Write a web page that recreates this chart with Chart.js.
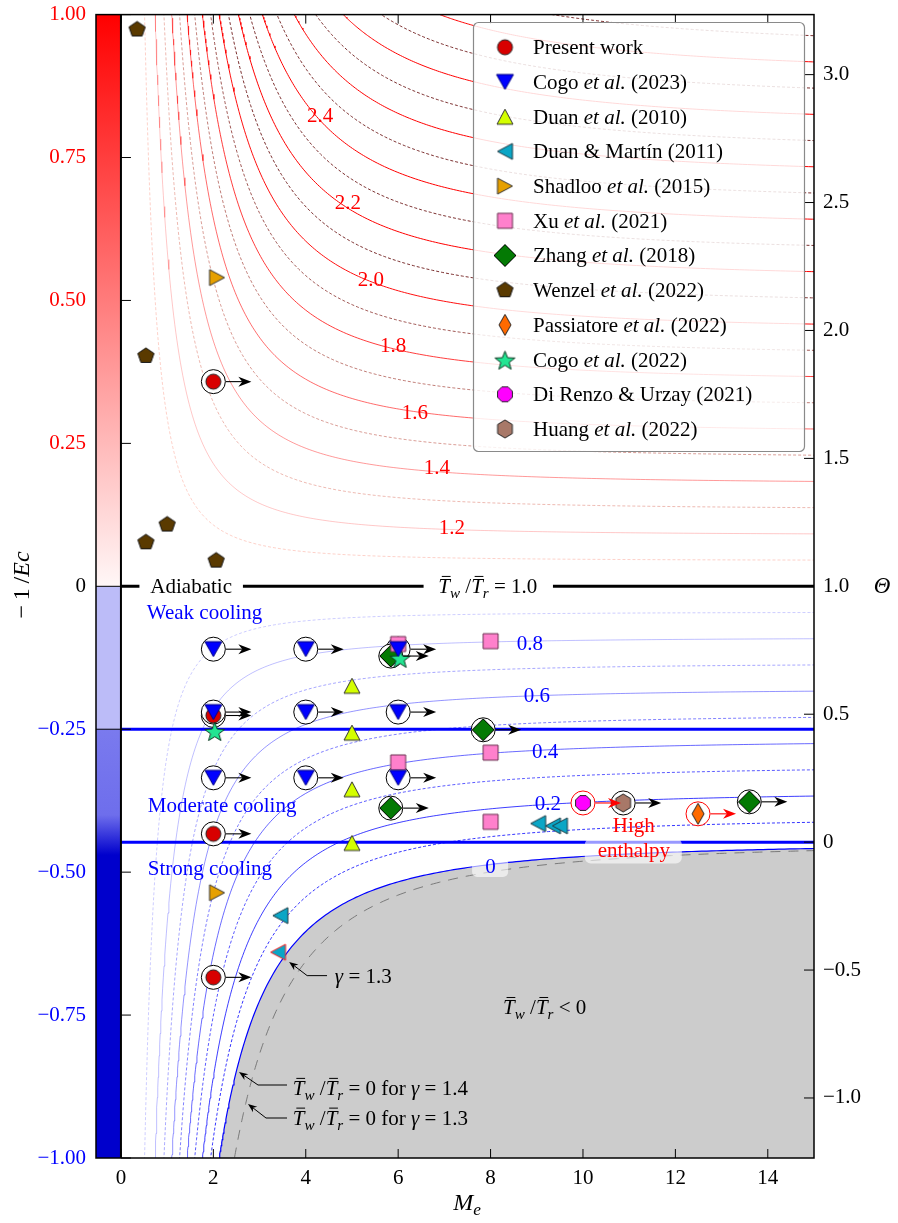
<!DOCTYPE html>
<html>
<head>
<meta charset="utf-8">
<script src="https://cdn.jsdelivr.net/npm/chart.js@4.4.0/dist/chart.umd.min.js"></script>
<style>
  html, body { margin: 0; padding: 0; background: #fff; }
  #wrap { width: 898px; height: 1223px; }
</style>
</head>
<body>
<div id="wrap"><canvas id="chart" width="898" height="1223"></canvas></div>
<script>
// values: x = Me, y = -1/Ec
const presentM = [2, 2, 2, 2];
const presentY = [0.358, -0.226, -0.433, -0.684];
const cogo2023M = [2, 4, 6, 2, 4, 6, 2, 4, 6];
const cogo2023Y = [-0.110, -0.110, -0.110, -0.220, -0.220, -0.220, -0.335, -0.335, -0.335];
const duan2010M = [5, 5, 5, 5];
const duan2010Y = [-0.174, -0.256, -0.355, -0.449];
const duanMartinM = [3.45, 3.4, 9.03, 9.35, 9.5];
const duanMartinY = [-0.576, -0.640, -0.415, -0.419, -0.419];
const shadlooM = [2.08, 2.08];
const shadlooY = [0.54, -0.536];
const xuM = [6, 6, 8, 8, 8];
const xuY = [-0.101, -0.308, -0.096, -0.291, -0.412];
const zhangM = [5.84, 7.84, 5.84, 13.6];
const zhangY = [-0.122, -0.251, -0.388, -0.377];
const wenzelM = [0.35, 0.54, 0.54, 1.0, 2.06];
const wenzelY = [0.974, 0.403, 0.077, 0.108, 0.045];
const passiatoreM = [12.49];
const passiatoreY = [-0.398];
const cogo2022M = [2.03, 6.04];
const cogo2022Y = [-0.253, -0.125];
const diRenzoM = [10.0];
const diRenzoY = [-0.379];
const huangM = [10.87];
const huangY = [-0.379];

const legendLabels = ['Present work', 'Cogo *et al.* (2023)', 'Duan *et al.* (2010)', 'Duan & Mart\u00edn (2011)',
  'Shadloo *et al.* (2015)', 'Xu *et al.* (2021)', 'Zhang *et al.* (2018)', 'Wenzel *et al.* (2022)',
  'Passiatore *et al.* (2022)', 'Cogo *et al.* (2022)', 'Di Renzo & Urzay (2021)', 'Huang *et al.* (2022)'];

// iso-lines of Tw/Tr, and the tick labels
const redLevels = [1.1, 1.2, 1.3, 1.4, 1.5, 1.6, 1.7, 1.8, 1.9, 2.0, 2.1, 2.2, 2.3, 2.4, 2.5, 2.6, 2.7, 2.8, 2.9, 3.0, 3.1, 3.2];
const blueLevels = [0.9, 0.8, 0.7, 0.6, 0.5, 0.4, 0.3, 0.2, 0.1];
const redLabels = ['2.4', '2.2', '2.0', '1.8', '1.6', '1.4', '1.2'];
const blueLabels = ['0.8', '0.6', '0.4', '0.2'];
const xTicks = [0, 2, 4, 6, 8, 10, 12, 14];
const yTicks = [1, 0.75, 0.5, 0.25, 0, -0.25, -0.5, -0.75, -1];
const yTickLabels = ['1.00', '0.75', '0.50', '0.25', '0', '\u22120.25', '\u22120.50', '\u22120.75', '\u22121.00'];
const thetaTicks = [3, 2.5, 2, 1.5, 1, 0.5, 0, -0.5, -1];
const thetaTickLabels = ['3.0', '2.5', '2.0', '1.5', '1.0', '0.5', '0', '\u22120.5', '\u22121.0'];

const recovery = 0.895;   // Theta = 1 + (2/r)(-1/Ec)
const gammaAir = 1.4;
const gammaLow = 1.3;
const weakLimit = -0.25;
const strongLimit = -recovery / 2;

// Tw/Tr = level curve in the (Me, -1/Ec) plane
function isoline(level, g) {
  const k = recovery * (g - 1) / 2;
  const lim = level > 1 ? 1.03 : -1.03;
  const q = (level - 1) / ((g - 1) * lim - (level - 1) * k);
  const m0 = q > 0 ? Math.sqrt(q) : 0.05;
  const pts = [];
  for (let i = 0; i <= 220; i++) {
    const t = i / 220;
    const m = m0 + (15.3 - m0) * t * t;
    pts.push({ x: m, y: (level - 1) * (1 + k * m * m) / ((g - 1) * m * m) });
  }
  return pts;
}

function marker(shape, fill, edge, w, h) {
  const c = document.createElement('canvas');
  c.width = Math.ceil(w + 4); c.height = Math.ceil(h + 4);
  const g = c.getContext('2d');
  const cx = c.width / 2, cy = c.height / 2, rx = w / 2, ry = h / 2;
  const poly = (n, start) => {
    for (let i = 0; i < n; i++) {
      const a = start + i * 2 * Math.PI / n;
      const px = cx + rx * Math.cos(a), py = cy + ry * Math.sin(a);
      if (i === 0) g.moveTo(px, py); else g.lineTo(px, py);
    }
  };
  g.beginPath();
  if (shape === 'circle') g.ellipse(cx, cy, rx, ry, 0, 0, 2 * Math.PI);
  else if (shape === 'down') { g.moveTo(cx - rx, cy - ry); g.lineTo(cx + rx, cy - ry); g.lineTo(cx, cy + ry); }
  else if (shape === 'up') { g.moveTo(cx - rx, cy + ry); g.lineTo(cx + rx, cy + ry); g.lineTo(cx, cy - ry); }
  else if (shape === 'left') { g.moveTo(cx + rx, cy - ry); g.lineTo(cx + rx, cy + ry); g.lineTo(cx - rx, cy); }
  else if (shape === 'right') { g.moveTo(cx - rx, cy - ry); g.lineTo(cx - rx, cy + ry); g.lineTo(cx + rx, cy); }
  else if (shape === 'square') g.rect(cx - rx, cy - ry, w, h);
  else if (shape === 'diamond') { g.moveTo(cx, cy - ry); g.lineTo(cx + rx, cy); g.lineTo(cx, cy + ry); g.lineTo(cx - rx, cy); }
  else if (shape === 'pent') poly(5, -Math.PI / 2);
  else if (shape === 'hex') poly(6, -Math.PI / 2);
  else if (shape === 'oct') poly(8, Math.PI / 8);
  else if (shape === 'star') {
    for (let i = 0; i < 10; i++) {
      const a = -Math.PI / 2 + i * Math.PI / 5, f = i % 2 ? 0.42 : 1;
      const px = cx + rx * f * Math.cos(a), py = cy + ry * f * Math.sin(a) + 1.5;
      if (i === 0) g.moveTo(px, py); else g.lineTo(px, py);
    }
  }
  g.closePath();
  g.fillStyle = fill; g.fill();
  g.lineWidth = 1; g.strokeStyle = edge; g.stroke();
  return c;
}

const mk = {
  present: marker('circle', '#d80000', '#222', 15, 15),
  cogo2023: marker('down', '#0000ff', '#000080', 17, 15),
  duan2010: marker('up', '#d4ff00', '#333', 16, 15),
  duanMartin: marker('left', '#0aa6c6', '#1d3a44', 15, 16),
  duanMartinRed: marker('left', '#0aa6c6', '#ff2020', 15, 16),
  shadloo: marker('right', '#e6a000', '#333', 15, 16),
  xu: marker('square', '#ff80cc', '#6a3050', 15, 15),
  zhang: marker('diamond', '#047a04', '#000', 22, 22),
  wenzel: marker('pent', '#5a3a00', '#111', 17, 16),
  passiatore: marker('diamond', '#ff6a00', '#222', 12, 21),
  cogo2022: marker('star', '#22e592', '#0c3a22', 21, 20),
  diRenzo: marker('oct', '#ff00ff', '#222', 16, 16),
  huang: marker('hex', '#a87868', '#222', 17, 18)
};

const zip = (xs, ys) => xs.map((v, i) => ({ x: v, y: ys[i] }));

const series = [
  { label: legendLabels[0], data: zip(presentM, presentY), icon: mk.present, ring: '#000', order: 2 },
  { label: legendLabels[1], data: zip(cogo2023M, cogo2023Y), icon: mk.cogo2023, ring: '#000', order: 1 },
  { label: legendLabels[2], data: zip(duan2010M, duan2010Y), icon: mk.duan2010, order: 1 },
  { label: legendLabels[3], data: zip(duanMartinM, duanMartinY), icon: mk.duanMartin, order: 1,
    styles: [mk.duanMartin, mk.duanMartinRed, mk.duanMartin, mk.duanMartin, mk.duanMartin] },
  { label: legendLabels[4], data: zip(shadlooM, shadlooY), icon: mk.shadloo, order: 1 },
  { label: legendLabels[5], data: zip(xuM, xuY), icon: mk.xu, order: 2 },
  { label: legendLabels[6], data: zip(zhangM, zhangY), icon: mk.zhang, ring: '#000', order: 2 },
  { label: legendLabels[7], data: zip(wenzelM, wenzelY), icon: mk.wenzel, order: 1 },
  { label: legendLabels[8], data: zip(passiatoreM, passiatoreY), icon: mk.passiatore, ring: '#ff0000', order: 1 },
  { label: legendLabels[9], data: zip(cogo2022M, cogo2022Y), icon: mk.cogo2022, order: 1 },
  { label: legendLabels[10], data: zip(diRenzoM, diRenzoY), icon: mk.diRenzo, ring: '#ff0000', order: 1 },
  { label: legendLabels[11], data: zip(huangM, huangY), icon: mk.huang, ring: '#000', order: 1 }
];

const ringPts = [], ringColors = [];
series.forEach(s => { if (s.ring) s.data.forEach(p => { ringPts.push(p); ringColors.push(s.ring); }); });

function redStyle(c) {
  const odd = Math.round(c * 10) % 2 === 1;
  if (!odd) {
    const a = Math.min(1, 0.22 + (c - 1.2) * 0.9);
    return { color: `rgba(255,0,0,${a})`, dash: [] };
  }
  const t = Math.min(1, (c - 1.1) / 1.0);
  const r = Math.round(250 - 140 * t), gg = Math.round(140 - 115 * t), b = Math.round(120 - 95 * t);
  return { color: `rgba(${r},${gg},${b},${0.4 + 0.5 * t})`, dash: [3, 2] };
}
function blueStyle(c) {
  const odd = Math.round(c * 10) % 2 === 1;
  const a = odd ? 0.2 + (0.9 - c) * 0.75 : 0.25 + (0.8 - c) * 0.85;
  return { color: `rgba(0,0,255,${a})`, dash: odd ? [3, 2] : [] };
}

const datasets = [];
series.forEach(s => datasets.push({
  label: s.label, data: s.data, pointStyle: s.styles || s.icon, pointRadius: 9, order: s.order
}));
datasets.push({ data: ringPts, pointStyle: 'circle', pointRadius: 12, pointBackgroundColor: '#fff',
  pointBorderColor: ringColors, pointBorderWidth: 1, order: 5 });
datasets.push({ data: [{ x: 0, y: 0 }, { x: 15.2, y: 0 }], showLine: true, borderColor: '#000', borderWidth: 3, pointRadius: 0, order: 12 });
datasets.push({ data: [{ x: 0, y: weakLimit }, { x: 15.2, y: weakLimit }], showLine: true, borderColor: '#0000ff', borderWidth: 3, pointRadius: 0, order: 12 });
datasets.push({ data: [{ x: 0, y: strongLimit }, { x: 15.2, y: strongLimit }], showLine: true, borderColor: '#0000ff', borderWidth: 3, pointRadius: 0, order: 12 });
datasets.push({ data: isoline(0, gammaLow), showLine: true, borderColor: '#7a7a7a', borderWidth: 1, borderDash: [10, 8], pointRadius: 0, order: 14 });
datasets.push({ data: isoline(0, gammaAir), showLine: true, borderColor: '#0000ff', borderWidth: 1.2, pointRadius: 0,
  fill: 'start', backgroundColor: '#cccccc', order: 15 });
redLevels.forEach(c => {
  const st = redStyle(c);
  datasets.push({ data: isoline(c, gammaAir), showLine: true, borderColor: st.color, borderDash: st.dash, borderWidth: 1, pointRadius: 0, order: 20 });
});
blueLevels.forEach(c => {
  const st = blueStyle(c);
  datasets.push({ data: isoline(c, gammaAir), showLine: true, borderColor: st.color, borderDash: st.dash, borderWidth: 1, pointRadius: 0, order: 20 });
});

const SERIF = '"Liberation Serif", "DejaVu Serif", serif';
const FS = 21;

function richParts(str) {
  return str.split('*').map((t, i) => ({ t, i: i % 2 === 1 }));
}
function drawRich(ctx, parts, x, y, size, color, align) {
  const font = p => `${p.i ? 'italic ' : ''}${p.s ? size * 0.72 : size}px ${SERIF}`;
  let total = 0;
  parts.forEach(p => { ctx.font = font(p); p.w = ctx.measureText(p.t).width; total += p.w; });
  let cx = align === 'center' ? x - total / 2 : align === 'right' ? x - total : x;
  const base = y + size * 0.33;
  ctx.fillStyle = color; ctx.strokeStyle = color;
  ctx.textAlign = 'left'; ctx.textBaseline = 'alphabetic';
  parts.forEach(p => {
    ctx.font = font(p);
    ctx.fillText(p.t, cx, p.s ? base + size * 0.22 : base);
    if (p.b) {
      ctx.lineWidth = 1;
      ctx.beginPath(); ctx.moveTo(cx + p.w * 0.3, base - size * 0.8); ctx.lineTo(cx + p.w * 1.05, base - size * 0.8); ctx.stroke();
    }
    cx += p.w;
  });
  return total;
}
const twtr = () => [{ t: 'T', i: 1, b: 1 }, { t: 'w', i: 1, s: 1 }, { t: ' /' }, { t: 'T', i: 1, b: 1 }, { t: 'r', i: 1, s: 1 }];

function arrow(ctx, pts, color, head, half, lw) {
  const n = pts.length, [x1, y1] = pts[n - 1], [x0, y0] = pts[n - 2];
  const a = Math.atan2(y1 - y0, x1 - x0), ca = Math.cos(a), sa = Math.sin(a);
  ctx.strokeStyle = color; ctx.fillStyle = color; ctx.lineWidth = lw;
  ctx.beginPath(); ctx.moveTo(pts[0][0], pts[0][1]);
  for (let i = 1; i < n - 1; i++) ctx.lineTo(pts[i][0], pts[i][1]);
  ctx.lineTo(x1 - head * 0.7 * ca, y1 - head * 0.7 * sa); ctx.stroke();
  ctx.beginPath(); ctx.moveTo(x1, y1);
  ctx.lineTo(x1 - head * ca + half * sa, y1 - head * sa - half * ca);
  ctx.lineTo(x1 - head * 0.7 * ca, y1 - head * 0.7 * sa);
  ctx.lineTo(x1 - head * ca - half * sa, y1 - head * sa + half * ca);
  ctx.closePath(); ctx.fill();
}
function roundBox(ctx, x, y, w, h, r) {
  ctx.beginPath(); ctx.roundRect(x, y, w, h, r);
}

const decor = {
  id: 'decor',
  beforeDatasetsDraw(chart) {
    const { ctx, chartArea: a, scales: { x, y } } = chart;
    const x0 = a.left, x1 = x.getPixelForValue(0), y0 = y.getPixelForValue(0);
    ctx.save();
    let g = ctx.createLinearGradient(0, a.top, 0, y0);
    g.addColorStop(0, '#ff0000'); g.addColorStop(1, '#fff7f7');
    ctx.fillStyle = g; ctx.fillRect(x0, a.top, x1 - x0, y0 - a.top);
    const p25 = y.getPixelForValue(weakLimit), p40 = y.getPixelForValue(-0.40), p47 = y.getPixelForValue(-0.47);
    ctx.fillStyle = '#bcbcf8'; ctx.fillRect(x0, y0, x1 - x0, p25 - y0);
    g = ctx.createLinearGradient(0, p25, 0, a.bottom);
    const f = v => (v - p25) / (a.bottom - p25);
    g.addColorStop(0, '#7a7aee'); g.addColorStop(f(p40), '#6e6eec'); g.addColorStop(f(p47), '#0000cc'); g.addColorStop(1, '#0000cc');
    ctx.fillStyle = g; ctx.fillRect(x0, p25, x1 - x0, a.bottom - p25);
    ctx.strokeStyle = '#000'; ctx.lineWidth = 1;
    [y0, p25].forEach(py => { ctx.beginPath(); ctx.moveTo(x0, py); ctx.lineTo(x1, py); ctx.stroke(); });
    ctx.restore();
  },
  afterDatasetsDraw(chart) {
    const { ctx, chartArea: a, scales: { x, y, y2 } } = chart;
    const X = v => x.getPixelForValue(v), Y = v => y.getPixelForValue(v);
    ctx.save();
    // marker arrows
    const rm = chart.getDatasetMeta(series.length);
    rm.data.forEach((el, i) => {
      arrow(ctx, [[el.x + 12.5, el.y], [el.x + 38, el.y]], ringColors[i], 13, 5, 1.1);
    });
    // white patches behind texts on the adiabatic line
    ctx.fillStyle = '#fff';
    ctx.fillRect(X(0.4), Y(0) - 10, X(2.64) - X(0.4), 20);
    ctx.fillRect(X(6.55), Y(0) - 12, X(9.35) - X(6.55), 24);
    drawRich(ctx, [{ t: 'Adiabatic' }], X(1.52), Y(0), FS, '#000', 'center');
    drawRich(ctx, twtr().concat([{ t: ' = 1.0' }]), X(7.94), Y(0), FS, '#000', 'center');
    // regime labels
    drawRich(ctx, [{ t: 'Weak cooling' }], X(0.56), Y(-0.045), FS, '#0000ff', 'left');
    drawRich(ctx, [{ t: 'Moderate cooling' }], X(0.58), Y(-0.382), FS, '#0000ff', 'left');
    drawRich(ctx, [{ t: 'Strong cooling' }], X(0.58), Y(-0.492), FS, '#0000ff', 'left');
    // contour labels
    const redAt = [[4.31, 0.824], [4.91, 0.672], [5.41, 0.538], [5.89, 0.422], [6.36, 0.305], [6.84, 0.208], [7.16, 0.103]];
    redLabels.forEach((t, i) => drawRich(ctx, [{ t }], X(redAt[i][0]), Y(redAt[i][1]), FS, '#ff0000', 'center'));
    const blueAt = [[8.85, -0.0995], [9.0, -0.19], [9.18, -0.288], [9.24, -0.379]];
    blueLabels.forEach((t, i) => drawRich(ctx, [{ t }], X(blueAt[i][0]), Y(blueAt[i][1]), FS, '#0000ff', 'center'));
    ctx.fillStyle = 'rgba(255,255,255,0.6)';
    roundBox(ctx, X(7.6), Y(-0.47), 36, 22, 5); ctx.fill();
    drawRich(ctx, [{ t: '0' }], X(8.0), Y(-0.49), FS, '#0000ff', 'center');
    ctx.fillStyle = 'rgba(255,255,255,0.6)';
    roundBox(ctx, X(10.04), Y(-0.441), 97, 25, 6); ctx.fill();
    drawRich(ctx, [{ t: 'High' }], X(11.1), Y(-0.417), FS, '#ff0000', 'center');
    drawRich(ctx, [{ t: 'enthalpy' }], X(11.1), Y(-0.461), FS, '#ff0000', 'center');
    // pointers
    arrow(ctx, [[X(4.46), Y(-0.681)], [X(4.03), Y(-0.681)], [X(3.64), Y(-0.657)]], '#000', 9, 3.5, 1);
    drawRich(ctx, [{ t: '\u03b3', i: 1 }, { t: ' = 1.3' }], X(4.63), Y(-0.681), FS, '#000', 'left');
    drawRich(ctx, twtr().concat([{ t: ' < 0' }]), X(8.27), Y(-0.7365), FS, '#000', 'left');
    arrow(ctx, [[287, 1085], [258, 1085], [239, 1072]], '#000', 9, 3.5, 1);
    drawRich(ctx, twtr().concat([{ t: ' = 0 for ' }, { t: '\u03b3', i: 1 }, { t: ' = 1.4' }]), X(3.72), Y(-0.878), FS, '#000', 'left');
    arrow(ctx, [[287, 1118], [266, 1118], [248, 1104]], '#000', 9, 3.5, 1);
    drawRich(ctx, twtr().concat([{ t: ' = 0 for ' }, { t: '\u03b3', i: 1 }, { t: ' = 1.3' }]), X(3.72), Y(-0.93), FS, '#000', 'left');
    // frame, M=0 line and inward ticks
    ctx.strokeStyle = '#000'; ctx.lineWidth = 1.5;
    ctx.strokeRect(a.left, a.top, a.right - a.left, a.bottom - a.top);
    ctx.lineWidth = 2;
    ctx.beginPath(); ctx.moveTo(X(0), a.top); ctx.lineTo(X(0), a.bottom); ctx.stroke();
    ctx.lineWidth = 1;
    ctx.beginPath();
    xTicks.forEach(v => { ctx.moveTo(X(v), a.bottom); ctx.lineTo(X(v), a.bottom - 9); ctx.moveTo(X(v), a.top); ctx.lineTo(X(v), a.top + 9); });
    yTicks.forEach(v => { ctx.moveTo(X(0), Y(v)); ctx.lineTo(X(0) + 10, Y(v)); });
    thetaTicks.forEach(v => { const py = y2.getPixelForValue(v); ctx.moveTo(a.right, py); ctx.lineTo(a.right - 10, py); });
    ctx.stroke();
    ctx.restore();
  },
  afterDraw(chart) {
    const { ctx } = chart;
    ctx.save();
    // legend
    ctx.fillStyle = 'rgba(255,255,255,0.85)'; ctx.strokeStyle = '#8a8a8a'; ctx.lineWidth = 1.2;
    roundBox(ctx, 473.5, 22.5, 331, 429, 5); ctx.fill(); ctx.stroke();
    series.forEach((s, i) => {
      const cy = 47.3 + i * 34.7;
      ctx.drawImage(s.icon, 505 - s.icon.width / 2, cy - s.icon.height / 2);
      drawRich(ctx, richParts(s.label), 533, cy, FS, '#000', 'left');
    });
    // axis titles
    ctx.translate(21, 585); ctx.rotate(-Math.PI / 2);
    drawRich(ctx, [{ t: '\u2212' }, { t: '\u20091\u2009/' }, { t: 'Ec', i: 1 }], 0, 0, 24, '#000', 'center');
    ctx.setTransform(1, 0, 0, 1, 0, 0);
    drawRich(ctx, [{ t: 'M', i: 1 }, { t: 'e', i: 1, s: 1 }], 467, 1202, 24, '#000', 'center');
    drawRich(ctx, [{ t: '\u0398', i: 1 }], 882, 585, 23, '#000', 'center');
    ctx.restore();
  }
};

const thetaMin = 1 - 2 / recovery, thetaMax = 1 + 2 / recovery;

new Chart(document.getElementById('chart'), {
  type: 'scatter',
  data: { datasets },
  options: {
    responsive: false,
    animation: false,
    devicePixelRatio: 1,
    layout: { padding: { top: 2, left: 0, right: 0, bottom: 0 } },
    plugins: { legend: { display: false }, tooltip: { enabled: false } },
    elements: { line: { tension: 0 } },
    scales: {
      x: {
        type: 'linear', min: -0.54, max: 15,
        grid: { display: false }, border: { display: false },
        afterBuildTicks: s => { s.ticks = xTicks.map(v => ({ value: v })); },
        afterFit: s => { s.height = 65; },
        ticks: { autoSkip: false, maxRotation: 0, padding: 0, color: '#000', font: { family: SERIF, size: FS }, callback: v => String(v) }
      },
      y: {
        type: 'linear', position: 'left', min: -1, max: 1,
        grid: { display: false }, border: { display: false },
        afterBuildTicks: s => { s.ticks = yTicks.map(v => ({ value: v })); },
        afterFit: s => { s.width = 96; },
        ticks: {
          autoSkip: false, padding: 2, font: { family: SERIF, size: FS },
          color: c => c.tick.value > 0 ? '#ff0000' : (c.tick.value < 0 ? '#0000ff' : '#000'),
          callback: (v, i) => yTickLabels[i]
        }
      },
      y2: {
        type: 'linear', position: 'right', min: thetaMin, max: thetaMax,
        grid: { display: false }, border: { display: false },
        afterBuildTicks: s => { s.ticks = thetaTicks.map(v => ({ value: v })); },
        afterFit: s => { s.width = 84; },
        ticks: { autoSkip: false, padding: 1, color: '#000', font: { family: SERIF, size: FS }, callback: (v, i) => thetaTickLabels[i] }
      }
    }
  },
  plugins: [decor]
});
</script>
</body>
</html>
